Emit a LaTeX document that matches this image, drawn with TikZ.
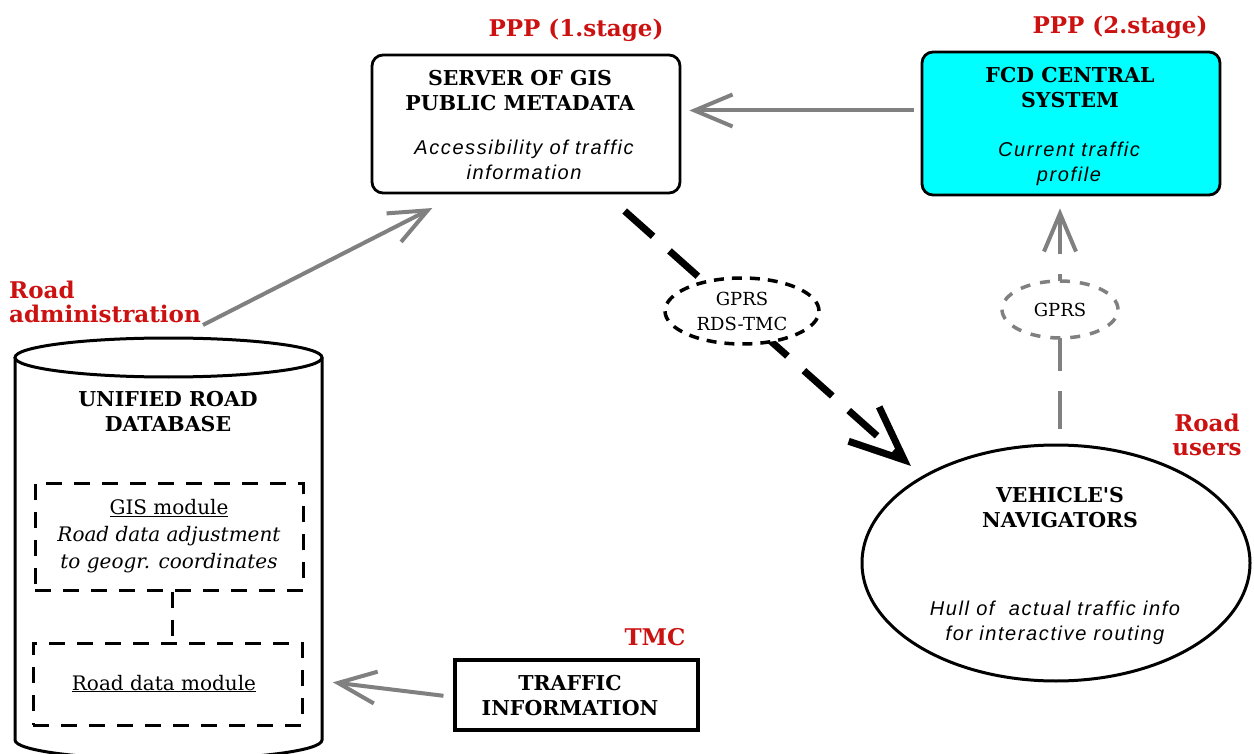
\documentclass[tikz,border=0pt]{standalone}
\usepackage{fontspec}
\setmainfont{DejaVu Serif}
\newfontfamily\descfont[LetterSpace=8]{Liberation Sans}
\usetikzlibrary{arrows.meta,shapes.geometric}
\definecolor{redlab}{RGB}{204,17,17}
\definecolor{argray}{RGB}{128,128,128}
\definecolor{fcdcyan}{RGB}{0,255,255}
\begin{document}
\begin{tikzpicture}[x=1pt,y=-1pt,
  title/.style={font=\fontsize{20.5}{25}\selectfont\bfseries, align=center, inner sep=0pt},
  desc/.style={font=\descfont\itshape\fontsize{20}{25}\selectfont, align=center, inner sep=0pt},
  redlabel/.style={font=\fontsize{23}{24}\selectfont\bfseries, text=redlab, inner sep=0pt},
  boxr/.style={draw, line width=2.8pt, rounded corners=11pt, inner sep=0pt},
  modbox/.style={draw, line width=3pt, dash pattern=on 16pt off 12pt, inner sep=0pt},
  grayarrow/.style={draw=argray, line width=4pt, -{Straight Barb[length=38pt,width=32pt]}},
  blackdash/.style={draw=black, line width=7pt, dash pattern=on 38pt off 22pt, -{Straight Barb[length=54pt,width=46pt]}},
  graydash/.style={draw=argray, line width=4pt, dash pattern=on 38pt off 20pt, -{Straight Barb[length=38pt,width=32pt]}},
  gprsell/.style={ellipse, line width=3.5pt, fill=white, inner sep=0pt, align=center, font=\fontsize{18}{25}\selectfont}
]
\useasboundingbox[fill=white] (0,0) rectangle (1254,754);

% boxes
\node[boxr, minimum width=308pt, minimum height=138pt] (server) at (526,124) {};
\node[boxr, fill=fcdcyan, minimum width=298pt, minimum height=143pt] (fcd) at (1071,123.5) {};
\node[draw, line width=3.2pt, inner sep=0pt, minimum width=243pt, minimum height=70pt] (traffic) at (576.5,695) {};
\node[draw, ellipse, line width=3pt, inner sep=0pt, minimum width=388pt, minimum height=236pt] (nav) at (1056,563) {};

% texts in boxes
\node[title] (servertitle) at (520,90.5) {SERVER OF GIS\\PUBLIC METADATA};
\node[desc] (serverdesc) at (524,160) {Accessibility of traffic\\information};
\node[title] (fcdtitle) at (1070,87.5) {FCD CENTRAL\\SYSTEM};
\node[desc] (fcddesc) at (1069,164) {Current traffic\\profile};
\node[title] (trafftitle) at (570,696) {TRAFFIC\\INFORMATION};
\node[title] (navtitle) at (1060,508) {VEHICLE\textquotesingle S\\NAVIGATORS};
\node[desc] (navdesc) at (1055,623) {Hull of \ actual traffic info\\for interactive routing};

% red labels
\node[redlabel, anchor=base] (ppp1) at (576,37) {PPP (1.stage)};
\node[redlabel, anchor=base] (ppp2) at (1120,34) {PPP (2.stage)};
\node[redlabel, anchor=north west, align=left] (roadadm) at (9,281) {Road\\administration};
\node[redlabel, anchor=north, align=center] (roadusers) at (1207,414) {Road\\users};
\node[redlabel, anchor=base] (tmc) at (655,645) {TMC};

% database cylinder
\fill[white] (15,357.5) -- (15,740) arc[start angle=180, end angle=0, x radius=153.5, y radius=19.5] -- (322,357.5) -- cycle;
\draw[line width=3pt] (15,357.5) -- (15,740) arc[start angle=180, end angle=0, x radius=153.5, y radius=19.5] -- (322,357.5);
\draw[line width=3pt] (168.5,357.5) ellipse[x radius=153.5, y radius=19.5];
\coordinate (dbright) at (322,681);
\node[title] (dbtitle) at (168,412) {UNIFIED ROAD\\DATABASE};
\node[modbox, minimum width=268pt, minimum height=107pt] (gismod) at (169,536.5) {};
\node[modbox, minimum width=269pt, minimum height=82pt] (roadmod) at (167.5,684) {};
\node[inner sep=0pt, anchor=north, align=center, font=\fontsize{20}{27}\selectfont] (gistxt) at (169,499)
  {\underline{GIS module}\\\textit{Road data adjustment}\\\textit{to geogr. coordinates}};
\node[inner sep=0pt, anchor=base, font=\fontsize{20}{27}\selectfont] (roadtxt) at (164,690) {\underline{Road data module}};
\draw[line width=3pt, dash pattern=on 16pt off 12pt] ([xshift=3pt]gismod.south) -- ([xshift=3pt]gismod.south |- roadmod.north);

% connectors
\coordinate (raend) at (203,325);
\draw[grayarrow, shorten <=7pt, shorten >=8pt] ([yshift=13pt]fcd.west) -- ([yshift=13pt]fcd.west -| server.east);
\draw[grayarrow, shorten >=30pt] (raend) -- ([xshift=-67pt]server.south);
\draw[grayarrow, shorten <=10pt, shorten >=11pt] ([yshift=-2pt]traffic.west) -- (dbright);
\draw[blackdash, shorten <=25pt] ([xshift=80pt]server.south) -- ([shift={(-3pt,15pt)}]nav.150);
\draw[graydash, shorten <=15pt, shorten >=12pt] ([xshift=4pt]nav.north) -- ([xshift=4pt]nav.north |- fcd.south);

% GPRS ellipses
\node[gprsell, draw=black, dash pattern=on 10pt off 8pt, minimum width=154pt, minimum height=66pt] (gprs1) at (742,311) {GPRS\\RDS-TMC};
\node[gprsell, draw=argray, dash pattern=on 10pt off 10pt, minimum width=116pt, minimum height=57pt] (gprs2) at (1060,309.5) {GPRS};
\end{tikzpicture}
\end{document}
